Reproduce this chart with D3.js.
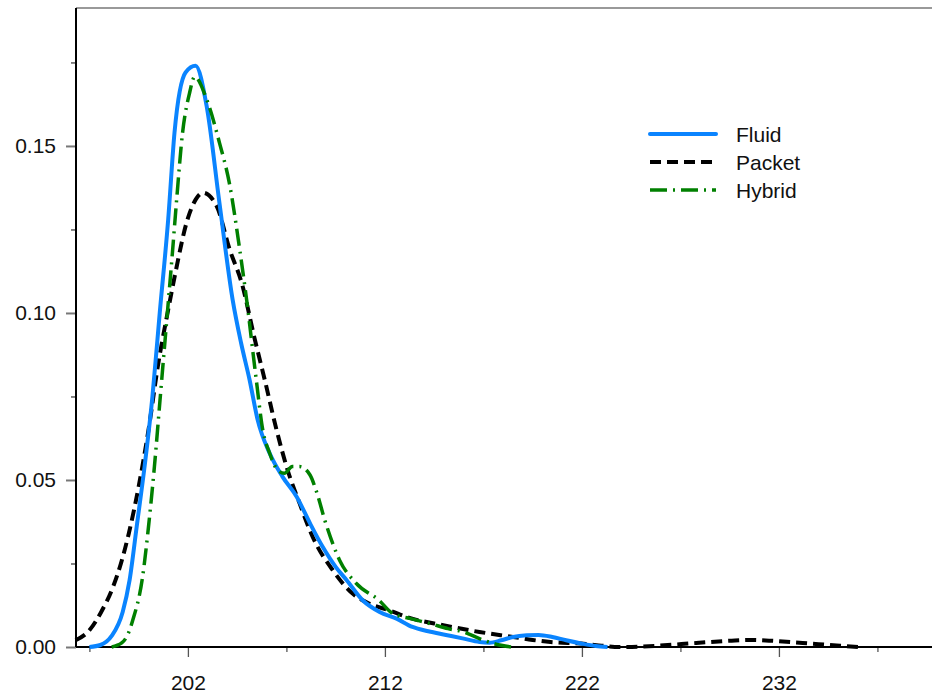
<!DOCTYPE html>
<html>
<head>
<meta charset="utf-8">
<script src="https://cdn.jsdelivr.net/npm/d3@7/dist/d3.min.js"></script>
<style>
  body { margin: 0; background: #fff; }
  svg { display: block; font-family: "Liberation Sans", Arial, sans-serif; }
</style>
</head>
<body>
<div class="density"></div>
<script>
// density curves
const fluidX = [197.0, 197.56, 198.13, 198.69, 199.04, 199.4, 199.8, 200.2, 200.57, 201.0, 201.32, 201.88, 202.39, 202.95, 203.6, 204.27, 204.7, 205.13, 205.54, 206.15, 206.8, 207.52, 208.2, 208.84, 209.5, 210.06, 210.87, 211.73, 212.59, 213.4, 214.2, 215.1, 216.0, 216.8, 217.3, 217.9, 218.5, 219.2, 219.8, 220.5, 221.2, 222.0, 222.7, 223.3];
const fluidY = [0, 0.0006, 0.0033, 0.0105, 0.020, 0.036, 0.054, 0.075, 0.100, 0.128, 0.154, 0.172, 0.174, 0.162, 0.133, 0.104, 0.091, 0.080, 0.068, 0.058, 0.051, 0.045, 0.037, 0.030, 0.024, 0.020, 0.014, 0.0105, 0.0085, 0.006, 0.0047, 0.0036, 0.0025, 0.0015, 0.0013, 0.002, 0.003, 0.0035, 0.0036, 0.003, 0.002, 0.001, 0.0003, 0];

const packetX = [196.3, 197.0, 197.6, 198.2, 198.6, 199.0, 199.5, 200.0, 200.5, 201.0, 201.4, 201.93, 202.4, 202.76, 203.46, 204.12, 204.73, 205.4, 205.9, 206.5, 207.06, 207.67, 208.33, 209.35, 210.36, 211.2, 212.2, 213.25, 214.9, 216.8, 218.5, 219.5, 220.4, 221.3, 222.2, 223.0, 223.9, 224.9, 225.9, 227.8, 229.6, 230.6, 231.5, 233.2, 235.1, 236.1];
const packetY = [0.002, 0.005, 0.0105, 0.018, 0.025, 0.034, 0.048, 0.065, 0.085, 0.101, 0.113, 0.127, 0.134, 0.136, 0.132, 0.119, 0.109, 0.092, 0.080, 0.065, 0.053, 0.043, 0.033, 0.023, 0.016, 0.013, 0.011, 0.0087, 0.0066, 0.0045, 0.003, 0.0021, 0.0015, 0.0012, 0.0009, 0.0004, 0, 0.0001, 0.0004, 0.0012, 0.0019, 0.0021, 0.0019, 0.0012, 0.0004, 0];

const hybridX = [198.13, 198.64, 198.94, 199.2, 199.7, 200.0, 200.3, 200.6, 200.9, 201.2, 201.43, 201.73, 202.09, 202.34, 202.95, 203.6, 204.1, 204.63, 204.98, 205.47, 205.8, 206.15, 206.55, 206.9, 207.3, 207.67, 208.2, 208.5, 209.0, 209.7, 210.55, 211.7, 212.4, 213.3, 214.3, 215.2, 216.0, 216.8, 217.6, 218.4];
const hybridY = [0, 0.0012, 0.0036, 0.008, 0.021, 0.036, 0.054, 0.075, 0.096, 0.117, 0.134, 0.154, 0.166, 0.1707, 0.164, 0.151, 0.139, 0.119, 0.104, 0.080, 0.065, 0.058, 0.053, 0.052, 0.054, 0.054, 0.0515, 0.047, 0.037, 0.026, 0.019, 0.014, 0.010, 0.0085, 0.007, 0.0055, 0.0045, 0.0025, 0.0009, 0];

const seriesNames = ["Fluid", "Packet", "Hybrid"];
const xMajorTicks = [202, 212, 222, 232];
const xMinorTicks = [197, 207, 217, 227, 237];
const yMajorTicks = [0, 0.05, 0.10, 0.15];
const yMinorTicks = [0.025, 0.075, 0.125, 0.175];

const width = 932, height = 696;
const plot = {left: 76, right: 932, top: 8, bottom: 647};

const svg = d3.select(".density")
  .append("svg")
    .attr("width", width)
    .attr("height", height);

const x = d3.scaleLinear()
  .domain([196.32, 239.77])
  .range([plot.left, plot.right]);

const y = d3.scaleLinear()
  .domain([0, 0.1913])
  .range([plot.bottom, plot.top]);

// frame: top border gray, left + bottom axes black
svg.append("line")
  .attr("x1", plot.left).attr("x2", plot.right)
  .attr("y1", plot.top).attr("y2", plot.top)
  .attr("stroke", "#777").attr("stroke-width", 1.5);

// y axis major ticks with labels
svg.append("g")
  .attr("class", "yaxis")
  .attr("transform", `translate(${plot.left},0)`)
  .call(d3.axisLeft(y).tickValues(yMajorTicks).tickSize(10).tickPadding(10).tickFormat(d3.format(".2f")))
  .call(g => g.select(".domain").remove())
  .call(g => g.selectAll("line").attr("stroke", "#777").attr("stroke-width", 2))
  .call(g => g.selectAll("text").attr("font-size", "21px").attr("fill", "#111").attr("font-family", "Liberation Sans, Arial, sans-serif"));

// y minor ticks
svg.append("g")
  .attr("transform", `translate(${plot.left},0)`)
  .call(d3.axisLeft(y).tickValues(yMinorTicks).tickSize(5).tickFormat(""))
  .call(g => g.select(".domain").remove())
  .call(g => g.selectAll("line").attr("stroke", "#333").attr("stroke-width", 1.2));

// x axis major ticks
svg.append("g")
  .attr("class", "xaxis")
  .attr("transform", `translate(0,${plot.bottom})`)
  .call(d3.axisBottom(x).tickValues(xMajorTicks).tickSize(10).tickPadding(18).tickFormat(d3.format("d")))
  .call(g => g.select(".domain").remove())
  .call(g => g.selectAll("line").attr("stroke", "#555").attr("stroke-width", 1.3))
  .call(g => g.selectAll("text").attr("font-size", "21px").attr("fill", "#111").attr("font-family", "Liberation Sans, Arial, sans-serif"));

svg.append("g")
  .attr("transform", `translate(0,${plot.bottom})`)
  .call(d3.axisBottom(x).tickValues(xMinorTicks).tickSize(5).tickFormat(""))
  .call(g => g.select(".domain").remove())
  .call(g => g.selectAll("line").attr("stroke", "#555").attr("stroke-width", 1.3));

// axis lines
svg.append("line")
  .attr("x1", plot.left).attr("x2", plot.left)
  .attr("y1", plot.top).attr("y2", plot.bottom)
  .attr("stroke", "#000").attr("stroke-width", 2);
svg.append("line")
  .attr("x1", plot.left).attr("x2", plot.right)
  .attr("y1", plot.bottom).attr("y2", plot.bottom)
  .attr("stroke", "#000").attr("stroke-width", 2);

const styles = {
  Fluid:  {color: "#0a84ff", dash: null,        width: 4},
  Packet: {color: "#000000", dash: "11,6",      width: 4},
  Hybrid: {color: "#008000", dash: "17,6,2,6",  width: 3.5}
};

const series = {
  Fluid:  d3.zip(fluidX, fluidY),
  Packet: d3.zip(packetX, packetY),
  Hybrid: d3.zip(hybridX, hybridY)
};

const line = d3.line()
  .x(d => x(d[0]))
  .y(d => y(d[1]))
  .curve(d3.curveMonotoneX);

// draw packet under fluid, hybrid on top
["Packet", "Fluid", "Hybrid"].forEach(name => {
  svg.append("path")
    .datum(series[name])
    .attr("fill", "none")
    .attr("stroke", styles[name].color)
    .attr("stroke-width", styles[name].width)
    .attr("stroke-dasharray", styles[name].dash)
    .attr("stroke-linejoin", "round")
    .attr("d", line);
});

// legend
const legend = svg.append("g").attr("transform", "translate(650,134)");
seriesNames.forEach((name, i) => {
  const row = legend.append("g").attr("transform", `translate(0,${i * 28})`);
  row.append("line")
    .attr("x1", 0).attr("x2", 66)
    .attr("y1", 0).attr("y2", 0)
    .attr("stroke", styles[name].color)
    .attr("stroke-width", styles[name].width)
    .attr("stroke-linecap", name === "Fluid" ? "round" : "butt")
    .attr("stroke-dasharray", styles[name].dash);
  row.append("text")
    .attr("x", 86)
    .attr("y", 7.5)
    .attr("font-size", "21px")
    .attr("fill", "#111")
    .text(name);
});
</script>
</body>
</html>
